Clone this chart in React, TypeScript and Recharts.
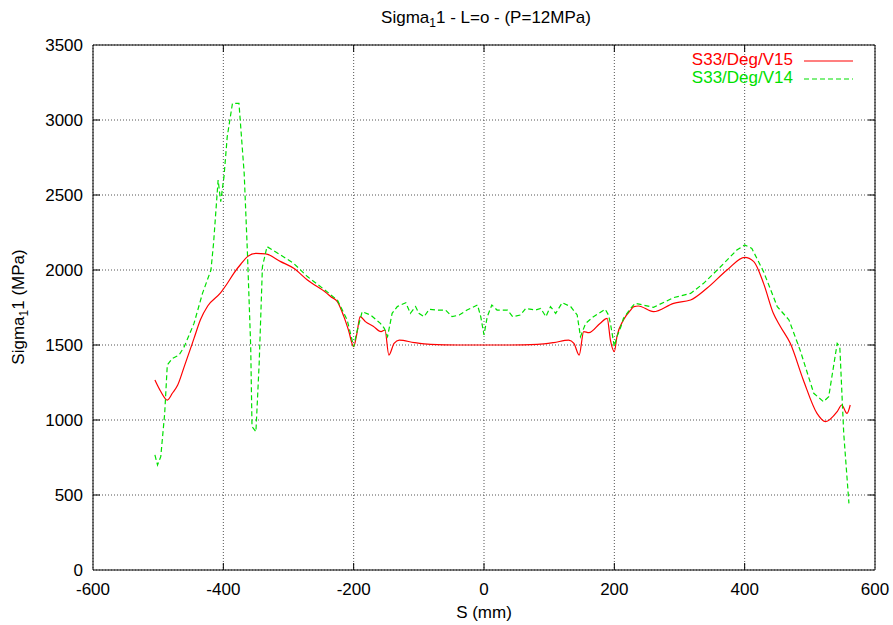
import { CartesianGrid, Line, LineChart, ReferenceArea, XAxis, YAxis } from "recharts";

// S (mm) / Sigma1 (MPa)
const v15S = [
  -505, -496, -486, -478, -470, -460, -445, -435, -424, -404, -394, -384, -373, -363, -350, -335,
  -312, -292, -271, -241, -235, -225, -215, -208, -200, -195, -190, -182, -170, -158, -152, -146,
  -138, -130, -107, -82, -40, 0, 40, 82, 107, 130, 138, 146, 153, 161, 178, 189, 194, 200, 204,
  214, 225, 230, 237, 260, 291, 317, 342, 373, 400, 414, 429, 444, 455, 470, 490, 511, 524, 542,
  549, 557, 562,
];
const v15Val = [
  1267, 1190, 1133, 1180, 1233, 1356, 1544, 1670, 1760, 1849, 1910, 1978, 2040, 2089, 2111, 2107,
  2056, 2011, 1933, 1844, 1822, 1789, 1689, 1600, 1489, 1578, 1689, 1656, 1625, 1589, 1600, 1433,
  1511, 1533, 1516, 1504, 1500, 1500, 1500, 1504, 1516, 1533, 1511, 1433, 1589, 1582, 1644, 1678,
  1533, 1456, 1556, 1667, 1733, 1756, 1760, 1722, 1778, 1800, 1878, 2000, 2084, 2056, 1911, 1711,
  1622, 1511, 1267, 1044, 989, 1056, 1100, 1044, 1100,
];

const v14S = [
  -505, -501, -496, -490, -486, -478, -468, -460, -445, -432, -419, -415, -408, -404, -399, -394,
  -386, -376, -368, -363, -358, -356, -350, -345, -340, -333, -312, -292, -271, -241, -235, -225,
  -210, -200, -195, -187, -174, -159, -153, -148, -141, -133, -120, -113, -105, -100, -92, -84,
  -72, -59, -49, -38, -26, -10, -5, 0, 5, 12, 20, 36, 44, 56, 64, 79, 87, 95, 102, 110, 120, 133,
  143, 148, 156, 168, 186, 191, 194, 200, 204, 210, 214, 225, 232, 260, 291, 317, 337, 363, 388,
  400, 411, 429, 450, 468, 485, 506, 521, 529, 542, 546, 552, 560,
];
const v14Val = [
  767, 700, 756, 1044, 1367, 1411, 1433, 1489, 1644, 1844, 2000, 2178, 2600, 2456, 2622, 2889,
  3111, 3111, 2644, 2111, 1489, 956, 922, 1378, 2022, 2156, 2100, 2044, 1956, 1856, 1833, 1800,
  1667, 1489, 1589, 1722, 1700, 1644, 1611, 1556, 1711, 1756, 1782, 1711, 1756, 1711, 1689, 1738,
  1733, 1733, 1689, 1700, 1733, 1767, 1689, 1567, 1689, 1767, 1733, 1733, 1689, 1700, 1744, 1733,
  1744, 1689, 1756, 1711, 1782, 1756, 1700, 1556, 1644, 1689, 1738, 1700, 1644, 1489, 1556, 1622,
  1678, 1744, 1778, 1751, 1816, 1844, 1911, 2022, 2133, 2167, 2144, 1989, 1756, 1667, 1467, 1178,
  1122, 1156, 1511, 1489, 911, 444,
];

const xTicks = [-600, -400, -200, 0, 200, 400, 600];
const yTicks = [0, 500, 1000, 1500, 2000, 2500, 3000, 3500];

const v15 = v15S.map((s, i) => ({ s, v: v15Val[i] }));
const v14 = v14S.map((s, i) => ({ s, v: v14Val[i] }));

const W = 893;
const H = 625;
const TOP = 45;
const BOTTOM = 570;
const LEFT = 93;
const RIGHT = 875;
const TICK = 7;
const FONT = "'Liberation Sans', Arial, Helvetica, sans-serif";
const RED = "#ff0000";
const GREEN = "#00e000";

function XTick(props: any) {
  const { x, payload } = props;
  const v = payload.value;
  const edge = v === xTicks[0] || v === xTicks[xTicks.length - 1];
  return (
    <g>
      {!edge && <line x1={x} x2={x} y1={BOTTOM} y2={BOTTOM - TICK} stroke="#000" />}
      {!edge && <line x1={x} x2={x} y1={TOP} y2={TOP + TICK} stroke="#000" />}
      <text x={x} y={BOTTOM + 25} textAnchor="middle" fontSize={17} fontFamily={FONT} fill="#000">
        {v}
      </text>
    </g>
  );
}

function YTick(props: any) {
  const { y, payload } = props;
  const v = payload.value;
  const edge = v === yTicks[0] || v === yTicks[yTicks.length - 1];
  return (
    <g>
      {!edge && <line x1={LEFT} x2={LEFT + TICK} y1={y} y2={y} stroke="#000" />}
      {!edge && <line x1={RIGHT - TICK} x2={RIGHT} y1={y} y2={y} stroke="#000" />}
      <text x={83} y={y + 6} textAnchor="end" fontSize={17} fontFamily={FONT} fill="#000">
        {v}
      </text>
    </g>
  );
}

const sub = { fontSize: 12, position: "relative" as const, top: 4 };

export default function App() {
  return (
    <div style={{ position: "absolute", left: 0, top: 0, width: W, height: H, background: "#fff", fontFamily: FONT }}>
      <LineChart width={W} height={H} margin={{ top: TOP, right: W - RIGHT, bottom: 0, left: 0 }}>
        <CartesianGrid stroke="#555" strokeDasharray="1 2" />
        <XAxis
          dataKey="s"
          type="number"
          domain={[-600, 600]}
          ticks={xTicks}
          axisLine={false}
          tickLine={false}
          tick={<XTick />}
          height={H - BOTTOM}
          allowDataOverflow
        />
        <YAxis
          type="number"
          domain={[0, 3500]}
          ticks={yTicks}
          axisLine={false}
          tickLine={false}
          tick={<YTick />}
          width={LEFT}
          allowDataOverflow
        />
        <ReferenceArea x1={-600} x2={600} y1={0} y2={3500} fill="none" stroke="#000" strokeWidth={1} />
        <Line
          data={v15}
          dataKey="v"
          type="monotoneX"
          stroke={RED}
          strokeWidth={1.2}
          dot={false}
          isAnimationActive={false}
        />
        <Line
          data={v14}
          dataKey="v"
          type="linear"
          stroke={GREEN}
          strokeWidth={1.2}
          strokeDasharray="5 3"
          dot={false}
          isAnimationActive={false}
        />
      </LineChart>

      <div style={{ position: "absolute", left: 0, width: 972, top: 8, textAlign: "center", fontSize: 17, whiteSpace: "nowrap" }}>
        Sigma<span style={sub}>1</span>1 - L=o - (P=12MPa)
      </div>
      <div style={{ position: "absolute", left: 0, width: 968, top: 603, textAlign: "center", fontSize: 17 }}>
        S (mm)
      </div>
      <div
        style={{
          position: "absolute",
          left: 19,
          top: 307,
          transform: "translate(-50%, -50%) rotate(-90deg)",
          fontSize: 17,
          whiteSpace: "nowrap",
        }}
      >
        Sigma<span style={sub}>1</span>1 (MPa)
      </div>

      <div style={{ position: "absolute", right: W - 793, top: 51, fontSize: 17, lineHeight: "18px", textAlign: "right" }}>
        <div style={{ color: RED }}>S33/Deg/V15</div>
        <div style={{ color: GREEN }}>S33/Deg/V14</div>
      </div>
      <svg style={{ position: "absolute", left: 800, top: 50 }} width={60} height={40}>
        <line x1={4} x2={53} y1={11} y2={11} stroke={RED} strokeWidth={1.2} />
        <line x1={4} x2={53} y1={29} y2={29} stroke={GREEN} strokeWidth={1.2} strokeDasharray="5 3" />
      </svg>
    </div>
  );
}
